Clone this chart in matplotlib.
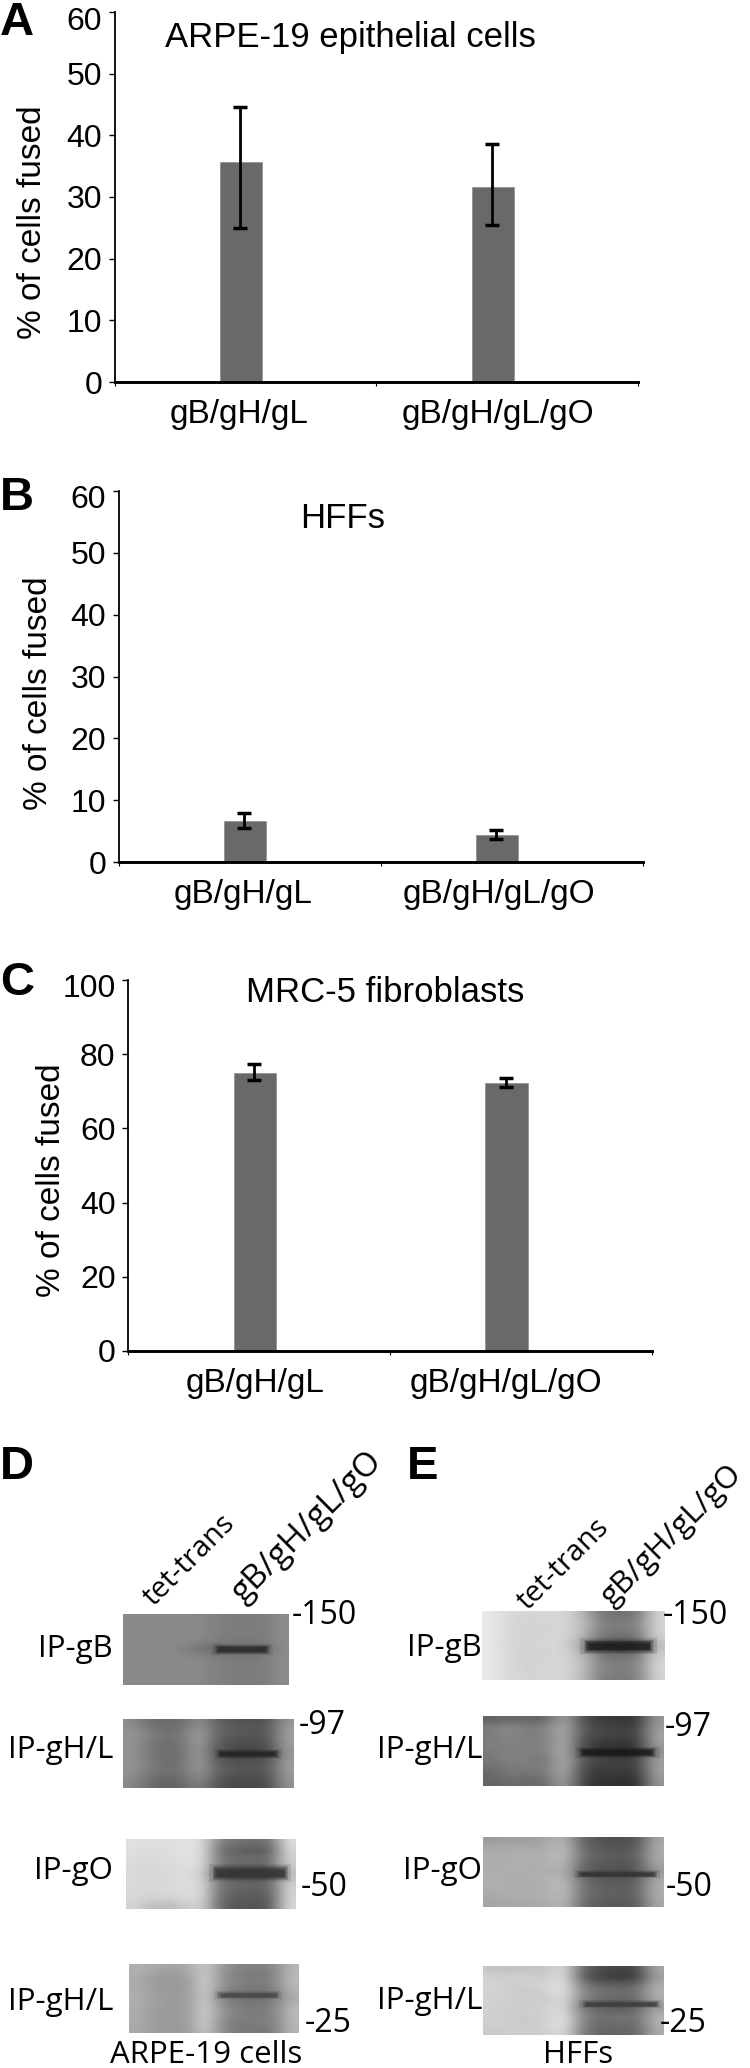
import matplotlib
matplotlib.use("Agg")
import matplotlib.pyplot as plt
from matplotlib.transforms import ScaledTranslation
import numpy as np

W, H = 750, 2068

# fusion assay data
groups = ['gB/gH/gL', 'gB/gH/gL/gO']

titles = ['ARPE-19 epithelial cells', 'HFFs', 'MRC-5 fibroblasts']
ytick_sets = [[0, 10, 20, 30, 40, 50, 60],
              [0, 10, 20, 30, 40, 50, 60],
              [0, 20, 40, 60, 80, 100]]

arpe_means = [35.6, 31.7]
arpe_low = [24.9, 25.5]
arpe_high = [44.6, 38.6]

hff_means = [6.6, 4.4]
hff_low = [5.5, 3.8]
hff_high = [7.9, 5.2]

mrc_means = [75.0, 72.3]
mrc_low = [73.0, 71.2]
mrc_high = [77.3, 73.7]

d_gb = [
    [138, 138, 138, 138, 138, 130, 124, 124, 124, 140],
    [138, 138, 138, 138, 138, 130, 124, 124, 124, 140],
    [138, 138, 138, 138, 138, 130, 124, 124, 124, 140],
    [138, 138, 138, 138, 138, 128, 122, 122, 122, 140],
    [138, 138, 138, 130, 112, 104, 112, 112, 112, 138],
    [138, 138, 138, 138, 138, 128, 122, 122, 122, 140],
    [138, 138, 138, 138, 138, 130, 124, 124, 124, 140],
    [138, 138, 138, 138, 138, 130, 124, 124, 124, 140],
    [138, 138, 138, 138, 138, 130, 124, 124, 124, 140],
]
d_gh1 = [
    [140, 112, 104, 108, 146, 96, 86, 82, 84, 150],
    [146, 128, 112, 118, 158, 104, 92, 88, 90, 158],
    [150, 130, 110, 122, 162, 98, 84, 82, 86, 160],
    [148, 122, 106, 116, 160, 90, 76, 74, 78, 156],
    [148, 120, 112, 114, 158, 84, 70, 68, 72, 150],
    [150, 126, 104, 116, 160, 92, 80, 82, 84, 156],
    [146, 128, 112, 120, 156, 100, 90, 84, 88, 158],
    [144, 116, 104, 110, 146, 92, 78, 80, 82, 152],
    [136, 108, 96, 104, 130, 84, 70, 72, 74, 146],
]
d_go = [
    [224, 222, 222, 224, 222, 132, 116, 112, 114, 224],
    [222, 218, 222, 226, 222, 108, 92, 88, 90, 216],
    [220, 216, 220, 224, 222, 122, 112, 110, 112, 212],
    [218, 214, 218, 222, 218, 114, 102, 100, 102, 204],
    [216, 212, 216, 220, 208, 100, 86, 84, 88, 190],
    [218, 214, 216, 222, 216, 116, 104, 100, 102, 206],
    [216, 214, 216, 220, 220, 114, 100, 98, 100, 212],
    [216, 212, 214, 218, 218, 108, 92, 90, 92, 214],
    [212, 186, 186, 200, 214, 104, 86, 84, 88, 218],
]
d_gh2 = [
    [176, 170, 164, 170, 204, 150, 132, 128, 134, 184],
    [174, 158, 150, 160, 210, 142, 126, 118, 128, 186],
    [172, 152, 160, 150, 212, 146, 130, 126, 132, 188],
    [174, 160, 148, 158, 210, 134, 118, 112, 120, 182],
    [176, 156, 160, 152, 208, 128, 114, 112, 118, 172],
    [174, 162, 148, 160, 210, 140, 124, 122, 128, 184],
    [172, 150, 158, 154, 212, 146, 130, 120, 130, 188],
    [174, 158, 150, 160, 210, 138, 122, 126, 128, 186],
    [170, 152, 156, 152, 204, 136, 120, 118, 124, 182],
]
e_gb = [
    [232, 216, 212, 214, 216, 186, 116, 112, 116, 212],
    [234, 214, 210, 214, 214, 192, 128, 126, 128, 214],
    [234, 212, 212, 210, 214, 192, 124, 122, 124, 214],
    [234, 214, 210, 212, 216, 182, 112, 108, 110, 208],
    [232, 212, 212, 214, 214, 160, 96, 92, 96, 190],
    [234, 214, 208, 210, 216, 182, 112, 108, 110, 208],
    [234, 212, 212, 212, 214, 192, 126, 124, 126, 214],
    [234, 216, 210, 214, 216, 192, 130, 128, 130, 216],
    [232, 214, 212, 212, 216, 188, 124, 122, 124, 212],
]
e_gh1 = [
    [96, 104, 100, 100, 170, 78, 58, 56, 52, 152],
    [130, 142, 126, 134, 178, 90, 70, 66, 62, 160],
    [118, 136, 122, 128, 176, 86, 66, 72, 64, 164],
    [128, 130, 132, 126, 180, 76, 56, 52, 54, 162],
    [122, 128, 126, 132, 178, 70, 50, 48, 50, 146],
    [120, 136, 124, 116, 180, 90, 70, 62, 64, 160],
    [112, 118, 128, 122, 178, 80, 60, 66, 62, 162],
    [104, 122, 112, 120, 176, 72, 52, 58, 50, 160],
    [100, 106, 104, 108, 164, 68, 48, 50, 44, 150],
]
e_go = [
    [154, 160, 156, 164, 184, 100, 82, 78, 80, 168],
    [168, 174, 166, 172, 192, 106, 88, 84, 88, 172],
    [176, 170, 178, 174, 194, 112, 96, 92, 94, 174],
    [170, 178, 172, 176, 188, 104, 88, 86, 88, 170],
    [174, 172, 176, 170, 176, 98, 84, 80, 84, 150],
    [178, 170, 174, 178, 190, 106, 88, 86, 90, 172],
    [172, 176, 170, 174, 194, 116, 100, 96, 98, 176],
    [170, 172, 176, 172, 192, 112, 96, 94, 96, 174],
    [164, 166, 170, 168, 186, 108, 90, 88, 90, 170],
]
e_gh2 = [
    [196, 190, 198, 194, 222, 104, 76, 68, 72, 170],
    [210, 206, 212, 200, 228, 92, 60, 56, 58, 160],
    [214, 202, 208, 212, 230, 128, 104, 100, 102, 176],
    [208, 210, 196, 206, 230, 136, 116, 110, 112, 180],
    [212, 200, 210, 198, 224, 126, 106, 102, 104, 172],
    [206, 208, 202, 210, 222, 114, 92, 90, 92, 156],
    [210, 198, 208, 204, 230, 136, 112, 118, 114, 182],
    [206, 208, 196, 210, 232, 128, 104, 112, 106, 178],
    [200, 204, 206, 202, 226, 122, 98, 102, 100, 172],
]

blots = [d_gb, d_gh1, d_go, d_gh2, e_gb, e_gh1, e_go, e_gh2]

# main band on each gel: height as a share of the gel, lane start, lane end, gray level
band_y = [0.49, 0.50, 0.48, 0.45, 0.50, 0.52, 0.53, 0.55]
band_x0 = [0.55, 0.55, 0.51, 0.52, 0.56, 0.53, 0.52, 0.55]
band_x1 = [0.88, 0.91, 0.95, 0.88, 0.94, 0.95, 0.96, 0.97]
band_gray = [40, 35, 50, 70, 25, 25, 50, 60]
band_px = [7, 6, 11, 5, 10, 7, 5, 5]

ip_names = ['IP-gB', 'IP-gH/L', 'IP-gO', 'IP-gH/L']
size_marks = ['-150', '-97', '-50', '-25']
lanes = ['tet-trans', 'gB/gH/gL/gO']
panel_letters = ['A', 'B', 'C', 'D', 'E']

chart_font = 'Liberation Sans'
blot_font = 'Open Sans'
bar_color = '#696969'

fig = plt.figure(figsize=(W / 100, H / 100), dpi=100, facecolor='white')


def px_text(x, y, s, **kw):
    # place text using reference pixel coordinates
    return fig.text(x / W, 1 - y / H, s, **kw)


def px_axes(left, top, right, bottom):
    return fig.add_axes([left / W, 1 - bottom / H, (right - left) / W, (bottom - top) / H])


def draw_bars(box, means, low, high, yticks, label_x, label_pad, ylabel_xy, title, title_xy):
    left, top, right, bottom = box
    ax = px_axes(left, top, right, bottom)
    cat = (right - left) / 2
    xs = [126.5 / cat, 378.5 / cat]
    err = [np.array(means) - np.array(low), np.array(high) - np.array(means)]
    ax.bar(xs, means, width=42 / cat, color=bar_color, edgecolor='#8c8c8c', linewidth=0.5, zorder=2)
    ax.errorbar([x - 1 / cat for x in xs], means, yerr=err, fmt='none', ecolor='black',
                elinewidth=2.0, capsize=5, capthick=2.5, zorder=3)
    ax.set_xlim(0, 2)
    ax.set_ylim(0, max(yticks))
    for side in ['top', 'right']:
        ax.spines[side].set_visible(False)
    ax.spines['left'].set_linewidth(1.3)
    ax.spines['bottom'].set_linewidth(2.1)
    ax.set_xticks([0, 1, 2])
    ax.set_xticklabels([])
    ax.tick_params(axis='x', which='major', length=3, width=0.8)
    ax.set_xticks([(x - left) / cat for x in label_x], minor=True)
    ax.set_xticklabels(groups, minor=True, fontsize=24, family=chart_font)
    ax.tick_params(axis='x', which='minor', length=0, pad=label_pad)
    ax.set_yticks(yticks)
    ax.set_yticklabels([str(t) for t in yticks], fontsize=23, family=chart_font)
    ax.tick_params(axis='y', length=4, width=1.0, pad=5)
    # top label sits a little below its tick in the original
    top_label = ax.get_yticklabels()[-1]
    top_label.set_transform(top_label.get_transform() + ScaledTranslation(0, -6 / 100, fig.dpi_scale_trans))
    px_text(ylabel_xy[0], ylabel_xy[1], '% of cells fused', rotation=90, ha='center', va='center',
            fontsize=24, family=chart_font)
    px_text(title_xy[0], title_xy[1], title, ha='center', va='center', fontsize=25, family=chart_font)
    return ax


draw_bars((114.5, 12, 638, 382), arpe_means, arpe_low, arpe_high, ytick_sets[0],
          [239, 497.5], 12, (33, 222), titles[0], (350, 38))
draw_bars((118.7, 491, 643, 862), hff_means, hff_low, hff_high, ytick_sets[1],
          [243.5, 498.5], 12, (39, 693), titles[1], (343, 518))
draw_bars((128, 980, 652, 1351), mrc_means, mrc_low, mrc_high, ytick_sets[2],
          [255, 506], 12, (52, 1180), titles[2], (385, 992))

# gels
blot_boxes = [(123, 1614, 289, 1685), (123, 1719, 294, 1788), (126, 1839, 296, 1909), (129, 1964, 299, 2033),
              (482, 1611, 664, 1680), (483, 1716, 664, 1786), (483, 1837, 664, 1907), (483, 1966, 664, 2035)]
for i, (box, grid) in enumerate(zip(blot_boxes, blots)):
    ax = px_axes(*box)
    ax.imshow(np.array(grid), cmap='gray', vmin=0, vmax=255, aspect='auto', interpolation='bicubic',
              extent=(0, 1, 1, 0))
    gray = str(band_gray[i] / 255)
    # layered strokes so the band edges fade out like on the gel
    for grow, inset, alpha in [(1.6, -0.02, 0.14), (1.25, 0.0, 0.3), (0.95, 0.01, 0.5), (0.65, 0.02, 0.6)]:
        ax.plot([band_x0[i] + inset, band_x1[i] - inset], [band_y[i], band_y[i]], color=gray, alpha=alpha,
                lw=band_px[i] * grow * 0.72, solid_capstyle='butt')
    ax.set_xlim(0, 1)
    ax.set_ylim(1, 0)
    ax.axis('off')

ip_kw = dict(ha='right', va='center', fontsize=22.5, family=blot_font)
for name, y in zip(ip_names, [1649, 1750, 1871, 2002]):
    px_text(113, y, name, **ip_kw)
for name, y in zip(ip_names, [1648, 1750, 1871, 2001]):
    px_text(482, y, name, **ip_kw)

mark_kw = dict(ha='left', va='center', fontsize=23, family=blot_font)
for mark, x, y in zip(size_marks, [292, 299, 301, 305], [1616, 1725, 1888, 2024]):
    px_text(x, y, mark, **mark_kw)
for mark, x, y in zip(size_marks, [663, 665, 666, 660], [1615, 1727, 1888, 2023]):
    px_text(x, y, mark, **mark_kw)

for lane, size, x, y in zip(lanes, [21, 24], [153, 243], [1607, 1603]):
    px_text(x, y, lane, rotation=45, rotation_mode='anchor', ha='left', va='baseline',
            fontsize=size, family=blot_font)
for lane, size, x, y in zip(lanes, [21, 22.5], [528, 612], [1611, 1607]):
    px_text(x, y, lane, rotation=45, rotation_mode='anchor', ha='left', va='baseline',
            fontsize=size, family=blot_font)

px_text(206, 2055, 'ARPE-19 cells', ha='center', va='center', fontsize=22.5, family=blot_font)
px_text(578, 2055, 'HFFs', ha='center', va='center', fontsize=22.5, family=blot_font)

# panel letters
letter_pos = [(0, 35), (0, 510), (0, 995), (0, 1479), (407, 1479)]
for letter, (x, y) in zip(panel_letters, letter_pos):
    px_text(x, y, letter, ha='left', va='baseline', fontsize=34, fontweight='bold', family=chart_font)

fig.savefig('out.png', dpi=100)
